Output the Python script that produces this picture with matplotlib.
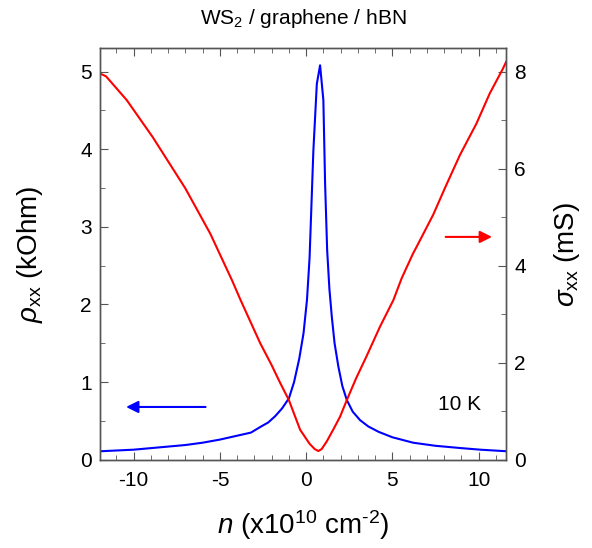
import matplotlib
matplotlib.use('Agg')
import matplotlib.pyplot as plt
from matplotlib.ticker import MultipleLocator

plt.rcParams['font.family'] = ['Liberation Sans', 'DejaVu Sans']
plt.rcParams['mathtext.fontset'] = 'custom'
plt.rcParams['mathtext.rm'] = 'Liberation Sans'
plt.rcParams['mathtext.it'] = 'Liberation Sans:italic'
plt.rcParams['axes.unicode_minus'] = False

# rho_xx (kOhm) vs n, left axis
n_rho = [-11.9, -10, -8.5, -7, -6, -5, -4, -3.2, -2.6, -2.2, -1.8, -1.4, -1.0, -0.7,
         -0.4, -0.15, 0.05, 0.2, 0.42, 0.62, 0.81, 1.0, 1.1, 1.22, 1.35, 1.49, 1.65,
         1.87, 2.1, 2.36, 2.7, 3.13, 3.6, 4.2, 5, 6.2, 7.5, 9, 10.1, 11.6]
rho = [0.11, 0.13, 0.16, 0.19, 0.22, 0.26, 0.31, 0.35, 0.43, 0.48, 0.56, 0.66, 0.79, 1.0,
       1.3, 1.63, 2.06, 2.6, 3.98, 4.84, 5.08, 4.63, 3.56, 2.7, 2.2, 1.84, 1.5,
       1.2, 0.95, 0.77, 0.62, 0.51, 0.43, 0.36, 0.29, 0.22, 0.18, 0.15, 0.13, 0.11]

# sigma_xx (mS) vs n, right axis
n_sig = [-11.9, -11.6, -10.4, -8.9, -7.0, -5.56, -4.3, -3.8, -2.66, -2.0, -1.5, -1.0,
         -0.35, 0.2, 0.5, 0.71, 0.9, 1.2, 1.6, 1.97, 2.36, 2.9, 3.5, 4.28, 5.06, 5.54,
         6.2, 6.41, 7.37, 8.05, 8.92, 9.88, 10.65, 11.4, 11.6]
sig = [7.95, 7.9, 7.41, 6.65, 5.59, 4.66, 3.70, 3.29, 2.40, 1.95, 1.58, 1.23,
       0.62, 0.33, 0.22, 0.18, 0.22, 0.38, 0.64, 0.89, 1.23, 1.68, 2.13, 2.74, 3.29, 3.74,
       4.25, 4.39, 5.05, 5.6, 6.28, 6.93, 7.55, 8.05, 8.2]

fig = plt.figure(figsize=(5.92, 5.48), dpi=100)
ax = fig.add_axes([0.169, 0.161, 0.686, 0.751])
ax2 = ax.twinx()

ax.plot(n_rho, rho, color='#0000ff', lw=1.5)
ax2.plot(n_sig, sig, color='#ff0000', lw=1.5)

ax.set_xlim(-11.95, 11.6)
ax.set_ylim(0, 5.3)
ax2.set_ylim(0, 8.48)

gray = '#555555'
for a in (ax, ax2):
    for s in a.spines.values():
        s.set_color(gray)
        s.set_linewidth(1.0)

ax.xaxis.set_major_locator(MultipleLocator(5))
ax.xaxis.set_minor_locator(MultipleLocator(1))
ax.yaxis.set_major_locator(MultipleLocator(1))
ax.yaxis.set_minor_locator(MultipleLocator(0.5))
ax2.yaxis.set_major_locator(MultipleLocator(2))
ax2.yaxis.set_minor_locator(MultipleLocator(1))

ax.tick_params(axis='x', which='both', direction='in', top=True, bottom=True, color=gray, labelsize=15, pad=8)
ax.tick_params(axis='y', which='both', direction='in', left=True, right=False, color=gray, labelsize=15, pad=6)
ax2.tick_params(axis='y', which='both', direction='in', right=True, left=False, color=gray, labelsize=15, pad=6)
for a in (ax, ax2):
    a.tick_params(which='major', length=6)
    a.tick_params(which='minor', length=3.5)

ax.set_xlabel(r'$n$ (x10$^{10}$ cm$^{\text{-}2}$)', fontsize=20)
ax.xaxis.set_label_coords(0.5, -0.118)
ax.set_ylabel(r'$\rho_{\mathrm{xx}}$ (kOhm)', fontsize=20)
ax.yaxis.set_label_coords(-0.135, 0.5)
ax2.set_ylabel(r'$\sigma_{\mathrm{xx}}$ (mS)', fontsize=20)
ax2.yaxis.set_label_coords(1.112, 0.5)

ax.text(0.5, 1.073, 'WS$_2$ / graphene / hBN', transform=ax.transAxes,
        ha='center', va='center', fontsize=15)

ax.annotate('', xy=(-10.6, 0.68), xytext=(-5.67, 0.68),
            arrowprops=dict(arrowstyle='-|>', color='#0000ff', lw=1.5, mutation_scale=18))
ax.annotate('', xy=(10.94, 2.87), xytext=(7.93, 2.87),
            arrowprops=dict(arrowstyle='-|>', color='#ff0000', lw=1.5, mutation_scale=18))

ax.text(8.9, 0.71, '10 K', fontsize=15, ha='center', va='center')

fig.savefig('out.png', dpi=100)
